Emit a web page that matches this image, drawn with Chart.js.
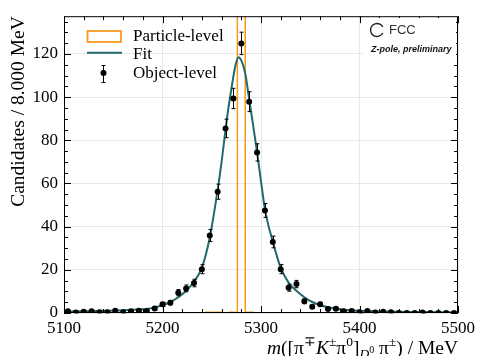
<!DOCTYPE html>
<html>
<head>
<meta charset="utf-8">
<script src="https://cdn.jsdelivr.net/npm/chart.js@4.4.1/dist/chart.umd.min.js"></script>
<style>
  html, body { margin: 0; padding: 0; background: #fff; }
</style>
</head>
<body>
<canvas id="massChart" width="480" height="356"></canvas>
<script>
// Bin edges of the 8 MeV histogram
const binEdges = [5100, 5108, 5116, 5124, 5132, 5140, 5148, 5156, 5164, 5172,
    5180, 5188, 5196, 5204, 5212, 5220, 5228, 5236, 5244, 5252,
    5260, 5268, 5276, 5284, 5292, 5300, 5308, 5316, 5324, 5332,
    5340, 5348, 5356, 5364, 5372, 5380, 5388, 5396, 5404, 5412,
    5420, 5428, 5436, 5444, 5452, 5460, 5468, 5476, 5484, 5492, 5500];

// Object-level candidates per bin and their errors
const objectCounts = [0.8, 0.2, 0.6, 0.8, 0.3, 0.3, 1.1, 0.3, 0.8, 1.1,
    0.9, 2.1, 4.0, 4.8, 9.4, 11.4, 13.9, 20.3, 35.9, 56.2,
    85.5, 99.4, 124.9, 97.9, 74.4, 47.5, 32.9, 20.3, 11.7, 13.4,
    5.4, 2.9, 4.0, 1.8, 2.0, 0.8, 0.9, 0.3, 0.9, 0.2,
    0.6, 0.3, 0, 0, 0, 0.2, 0, 0, 0, 0];
const objectErrors = [0.42, 0.21, 0.36, 0.42, 0.26, 0.26, 0.49, 0.26, 0.42, 0.49,
    0.44, 0.68, 0.94, 1.03, 1.44, 1.58, 1.75, 2.1, 2.8, 3.5,
    4.3, 4.7, 5.2, 4.6, 4.0, 3.2, 2.7, 2.1, 1.6, 1.7,
    1.1, 0.8, 0.94, 0.63, 0.66, 0.42, 0.44, 0.26, 0.44, 0.21,
    0.36, 0.26, 0, 0, 0, 0.21, 0, 0, 0, 0];

// Particle-level histogram (peak bin goes far off the top)
const particleCounts = [0.3, 0, 0, 0, 0, 0, 0, 0, 0, 0,
    0, 0, 0, 0, 0, 0, 0, 0, 0.3, 0.3,
    0, 0.3, 2000, 0.3, 0, 0, 0, 0, 0, 0,
    0, 0, 0, 0, 0, 0, 0, 0, 0, 0,
    0, 0, 0, 0, 0, 0, 0, 0, 0, 0];

// Fit curve
const fitMass = [5100, 5120, 5140, 5160, 5176, 5184, 5192, 5200, 5208, 5216,
    5224, 5232, 5240, 5248, 5256, 5260, 5264, 5266, 5270, 5274,
    5277, 5280, 5284, 5288, 5292, 5296, 5300, 5304, 5312, 5320,
    5328, 5336, 5344, 5352, 5360, 5376, 5400, 5450, 5500];
const fitValues = [0.6, 0.8, 1.0, 1.3, 1.7, 1.9, 2.6, 3.6, 5.1, 7.3,
    10.3, 14.5, 21, 35, 57, 70, 85, 92, 104, 114.5,
    118.5, 117, 111, 99, 87, 74.5, 61, 48, 33, 21,
    14.1, 10.3, 7.3, 5.1, 3.6, 2, 1, 0.5, 0.35];

const xTicks = [5100, 5200, 5300, 5400, 5500];
const yTicks = [0, 20, 40, 60, 80, 100, 120];

const SERIF = '"Liberation Serif", "Times New Roman", serif';
const ORANGE = '#f89a1c';
const TEAL = '#22696b';

const binCenters = binEdges.slice(0, -1).map((e, i) => (e + binEdges[i + 1]) / 2);

// step outline for the particle-level histogram
const particleStep = [{ x: binEdges[0], y: 0 }];
binEdges.forEach((e, i) => {
    particleStep.push({ x: e, y: particleCounts[Math.min(i, particleCounts.length - 1)] });
});
particleStep.push({ x: binEdges[binEdges.length - 1], y: 0 });

// frame, inward ticks, error bars, legend, logo and x title
const decorations = {
    id: 'decorations',
    afterDatasetsDraw(chart) {
        const ctx = chart.ctx;
        const xs = chart.scales.x, ys = chart.scales.y;
        ctx.save();
        ctx.strokeStyle = '#000';
        ctx.lineWidth = 1;
        binCenters.forEach((m, i) => {
            const err = objectErrors[i];
            if (!err) return;
            const px = Math.round(xs.getPixelForValue(m)) + 0.5;
            const lo = ys.getPixelForValue(Math.max(objectCounts[i] - err, 0));
            const hi = ys.getPixelForValue(objectCounts[i] + err);
            ctx.beginPath();
            ctx.moveTo(px, lo); ctx.lineTo(px, hi);
            ctx.moveTo(px - 2, lo); ctx.lineTo(px + 2, lo);
            ctx.moveTo(px - 2, hi); ctx.lineTo(px + 2, hi);
            ctx.stroke();
        });
        ctx.restore();
    },
    afterDraw(chart) {
        const ctx = chart.ctx;
        const a = chart.chartArea;
        const xs = chart.scales.x, ys = chart.scales.y;
        ctx.save();

        // frame
        ctx.strokeStyle = '#000';
        ctx.lineWidth = 1;
        ctx.strokeRect(a.left + 0.5, a.top + 0.5, a.right - a.left - 1, a.bottom - a.top - 1);

        // ticks pointing inwards on all sides
        ctx.beginPath();
        for (let v = 5100; v <= 5500; v += 20) {
            const len = v % 100 === 0 ? 7 : 4;
            const px = Math.round(xs.getPixelForValue(v)) + 0.5;
            ctx.moveTo(px, a.bottom); ctx.lineTo(px, a.bottom - len);
            ctx.moveTo(px, a.top); ctx.lineTo(px, a.top + len);
        }
        for (let v = 0; v <= 135; v += 5) {
            const len = v % 20 === 0 ? 7 : 4;
            const py = Math.round(ys.getPixelForValue(v)) + 0.5;
            ctx.moveTo(a.left, py); ctx.lineTo(a.left + len, py);
            ctx.moveTo(a.right, py); ctx.lineTo(a.right - len, py);
        }
        ctx.stroke();

        // legend
        ctx.strokeStyle = ORANGE;
        ctx.lineWidth = 1.8;
        ctx.strokeRect(87.5, 31, 33.5, 11);
        ctx.strokeStyle = TEAL;
        ctx.lineWidth = 2;
        ctx.beginPath(); ctx.moveTo(87, 52.7); ctx.lineTo(122, 52.7); ctx.stroke();
        ctx.strokeStyle = '#000';
        ctx.fillStyle = '#000';
        ctx.lineWidth = 1;
        ctx.beginPath();
        ctx.moveTo(103.5, 65.5); ctx.lineTo(103.5, 82.5);
        ctx.moveTo(101.5, 65.5); ctx.lineTo(105.5, 65.5);
        ctx.moveTo(101.5, 82.5); ctx.lineTo(105.5, 82.5);
        ctx.stroke();
        ctx.beginPath(); ctx.arc(103.5, 73, 3, 0, Math.PI * 2); ctx.fill();
        ctx.font = '17px ' + SERIF;
        ctx.textAlign = 'left';
        ctx.textBaseline = 'alphabetic';
        ctx.fillText('Particle-level', 133, 41);
        ctx.fillText('Fit', 133, 59);
        ctx.fillText('Object-level', 133, 78);

        // FCC logo box
        ctx.fillStyle = '#fff';
        ctx.fillRect(363, 18, 93, 38);
        ctx.strokeStyle = '#222';
        ctx.lineWidth = 1.4;
        ctx.beginPath(); ctx.arc(377, 30, 6.5, 0.15 * Math.PI, 1.85 * Math.PI); ctx.stroke();
        ctx.fillStyle = '#333';
        ctx.font = '13px "Liberation Sans", Arial, sans-serif';
        ctx.textBaseline = 'middle';
        ctx.fillText('FCC', 389, 30.5);
        ctx.fillStyle = '#111';
        ctx.font = 'italic bold 9px "Liberation Sans", Arial, sans-serif';
        ctx.fillText('Z-pole, preliminary', 371, 49.5);

        // x axis title with super- and subscripts
        const parts = [
            { t: 'm', s: 19.5, st: 'italic', dy: 0 },
            { t: '([\u03c0', s: 19.5, st: '', dy: 0 },
            { t: '\u2213', s: 13.5, st: '', dy: -8 },
            { t: 'K', s: 19.5, st: 'italic', dy: 0 },
            { t: '\u00b1', s: 13.5, st: '', dy: -8 },
            { t: '\u03c0', s: 19.5, st: '', dy: 0 },
            { t: '0', s: 13.5, st: '', dy: -8 },
            { t: ']', s: 19.5, st: '', dy: 0 },
            { t: 'D', s: 13.5, st: 'italic', dy: 4 },
            { t: '0', s: 10, st: '', dy: -1 },
            { t: ' \u03c0', s: 19.5, st: '', dy: 0 },
            { t: '\u00b1', s: 13.5, st: '', dy: -8 },
            { t: ') / MeV', s: 19.5, st: '', dy: 0 }
        ];
        ctx.fillStyle = '#000';
        ctx.textBaseline = 'alphabetic';
        let total = 0;
        parts.forEach(p => {
            ctx.font = (p.st ? p.st + ' ' : '') + p.s + 'px ' + SERIF;
            p.w = ctx.measureText(p.t).width;
            total += p.w;
        });
        let cx = a.right - total;
        parts.forEach(p => {
            ctx.font = (p.st ? p.st + ' ' : '') + p.s + 'px ' + SERIF;
            ctx.fillText(p.t, cx, 354 + p.dy);
            cx += p.w;
        });
        ctx.restore();
    }
};

const ctx = document.getElementById('massChart').getContext('2d');
const massChart = new Chart(ctx, {
    type: 'line',
    data: {
        datasets: [{
            label: 'Object-level',
            data: binCenters.map((m, i) => ({ x: m, y: objectCounts[i] })),
            showLine: false,
            pointRadius: 3,
            pointBackgroundColor: '#000',
            pointBorderWidth: 0,
            borderColor: '#000'
        }, {
            label: 'Fit',
            data: fitMass.map((m, i) => ({ x: m, y: fitValues[i] })),
            borderColor: TEAL,
            borderWidth: 2,
            pointRadius: 0,
            cubicInterpolationMode: 'monotone',
            fill: false
        }, {
            label: 'Particle-level',
            data: particleStep,
            borderColor: ORANGE,
            borderWidth: 1.5,
            pointRadius: 0,
            stepped: 'before',
            fill: false
        }]
    },
    options: {
        responsive: false,
        animation: false,
        devicePixelRatio: 1,
        layout: { padding: { top: 6, right: 20, left: 0, bottom: 0 } },
        plugins: { legend: { display: false }, tooltip: { enabled: false } },
        scales: {
            x: {
                type: 'linear',
                min: 5100,
                max: 5500,
                afterFit: s => { s.height = 43; },
                afterBuildTicks: s => { s.ticks = xTicks.map(v => ({ value: v })); },
                ticks: {
                    font: { family: SERIF, size: 17 }, color: '#000', padding: 5, maxRotation: 0,
                    callback: v => String(v)
                },
                grid: { color: '#e8e8e8', drawTicks: false },
                border: { display: false }
            },
            y: {
                min: 0,
                max: 137.5,
                afterFit: s => { s.width = 64; },
                afterBuildTicks: s => { s.ticks = yTicks.map(v => ({ value: v })); },
                ticks: {
                    font: { family: SERIF, size: 17 }, color: '#000', padding: 6,
                    callback: v => String(v)
                },
                grid: { color: '#e8e8e8', drawTicks: false },
                border: { display: false },
                title: {
                    display: true,
                    text: 'Candidates / 8.000 MeV',
                    align: 'end',
                    color: '#000',
                    font: { family: SERIF, size: 19.5 },
                    padding: { top: 7, bottom: 0 }
                }
            }
        }
    },
    plugins: [decorations]
});
</script>
</body>
</html>
